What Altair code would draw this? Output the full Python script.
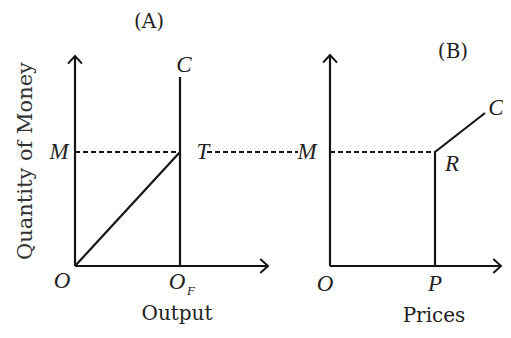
import altair as alt
import pandas as pd

# Diagram coordinates: origin of panel (A) is (0, 0); panel (B) origin at x=255
# Money level M = 114, full-employment output OF = 105, price P = 360 (B)

# solid segments
seg_id = ["A_yaxis", "A_xaxis", "A_C", "A_OT", "B_yaxis", "B_xaxis", "B_PR", "B_RC"]
seg_x1 = [0, 0, 105, 0, 255, 255, 360, 360]
seg_y1 = [0, 0, 0, 0, 0, 0, 0, 114]
seg_x2 = [0, 193, 105, 105, 255, 426, 360, 410]
seg_y2 = [210, 0, 189, 114, 211, 0, 114, 153]

# dashed segments (money level M)
dash_x1 = [0, 132, 255]
dash_x2 = [105, 223, 360]
dash_y = [114, 114, 114]

# arrowheads
up_x = [0, 255]
up_y = [210, 211]
right_x = [193, 426]
right_y = [0, 0]

# upright labels
word_text = ["(A)", "(B)", "Output", "Prices"]
word_x = [74, 378, 102, 359]
word_y = [244, 214, -48, -50]

# italic point labels
let_text = ["M", "T", "C", "O", "O", "M", "R", "C", "O", "P"]
let_x = [-16, 128, 109, -13, 102, 232, 377, 421, 250, 360]
let_y = [114, 114, 201, -15, -16, 114, 102, 158, -18, -18]

sub_text = ["F"]
sub_x = [116]
sub_y = [-25]

ylab_text = ["Quantity of Money"]
ylab_x = [-49]
ylab_y = [105]

XS = alt.Scale(domain=[-67, 428], nice=False, zero=False)
YS = alt.Scale(domain=[-60, 258], nice=False, zero=False)
INK = "#151515"
TXT = "#222222"

segs = pd.DataFrame({"id": seg_id, "x": seg_x1, "y": seg_y1, "x2": seg_x2, "y2": seg_y2})
dash = pd.DataFrame({"x": dash_x1, "x2": dash_x2, "y": dash_y})
ups = pd.DataFrame({"x": up_x, "y": up_y})
rights = pd.DataFrame({"x": right_x, "y": right_y})
words = pd.DataFrame({"t": word_text, "x": word_x, "y": word_y})
lets = pd.DataFrame({"t": let_text, "x": let_x, "y": let_y})
subs = pd.DataFrame({"t": sub_text, "x": sub_x, "y": sub_y})
ylab = pd.DataFrame({"t": ylab_text, "x": ylab_x, "y": ylab_y})


def X(f="x"):
    return alt.X(f + ":Q", scale=XS, axis=None)


def Y(f="y"):
    return alt.Y(f + ":Q", scale=YS, axis=None)


solid = alt.Chart(segs).mark_rule(color=INK, strokeWidth=2.2).encode(
    x=X(), y=Y(), x2="x2:Q", y2="y2:Q"
)
dashed = alt.Chart(dash).mark_rule(color=INK, strokeWidth=2, strokeDash=[5, 3]).encode(
    x=X(), y=Y(), x2="x2:Q"
)
arr_up = alt.Chart(ups).mark_point(
    shape="M-1,1.1L0,0L1,1.1", filled=False, color=INK, strokeWidth=2, size=196, opacity=1
).encode(x=X(), y=Y())
arr_right = alt.Chart(rights).mark_point(
    shape="M-1.1,-1L0,0L-1.1,1", filled=False, color=INK, strokeWidth=2, size=196, opacity=1
).encode(x=X(), y=Y())

word_layer = alt.Chart(words).mark_text(
    font="DejaVu Serif", fontSize=20, align="center", baseline="middle", color=TXT
).encode(x=X(), y=Y(), text="t:N")
let_layer = alt.Chart(lets).mark_text(
    font="Liberation Serif", fontStyle="italic", fontSize=23, align="center",
    baseline="middle", color=TXT
).encode(x=X(), y=Y(), text="t:N")
sub_layer = alt.Chart(subs).mark_text(
    font="Liberation Serif", fontStyle="italic", fontSize=13, align="center",
    baseline="middle", color=TXT
).encode(x=X(), y=Y(), text="t:N")
ylab_layer = alt.Chart(ylab).mark_text(
    font="DejaVu Serif", fontSize=21, align="center", baseline="middle",
    angle=270, color="#333333"
).encode(x=X(), y=Y(), text="t:N")

chart = alt.layer(
    solid, dashed, arr_up, arr_right, word_layer, let_layer, sub_layer, ylab_layer
).properties(
    width=495, height=318, padding=0, autosize=alt.AutoSizeParams(type="none"),
    background="white"
).configure_view(stroke=None)

chart.save("out.html", embed_options={"renderer": "svg", "actions": False})
